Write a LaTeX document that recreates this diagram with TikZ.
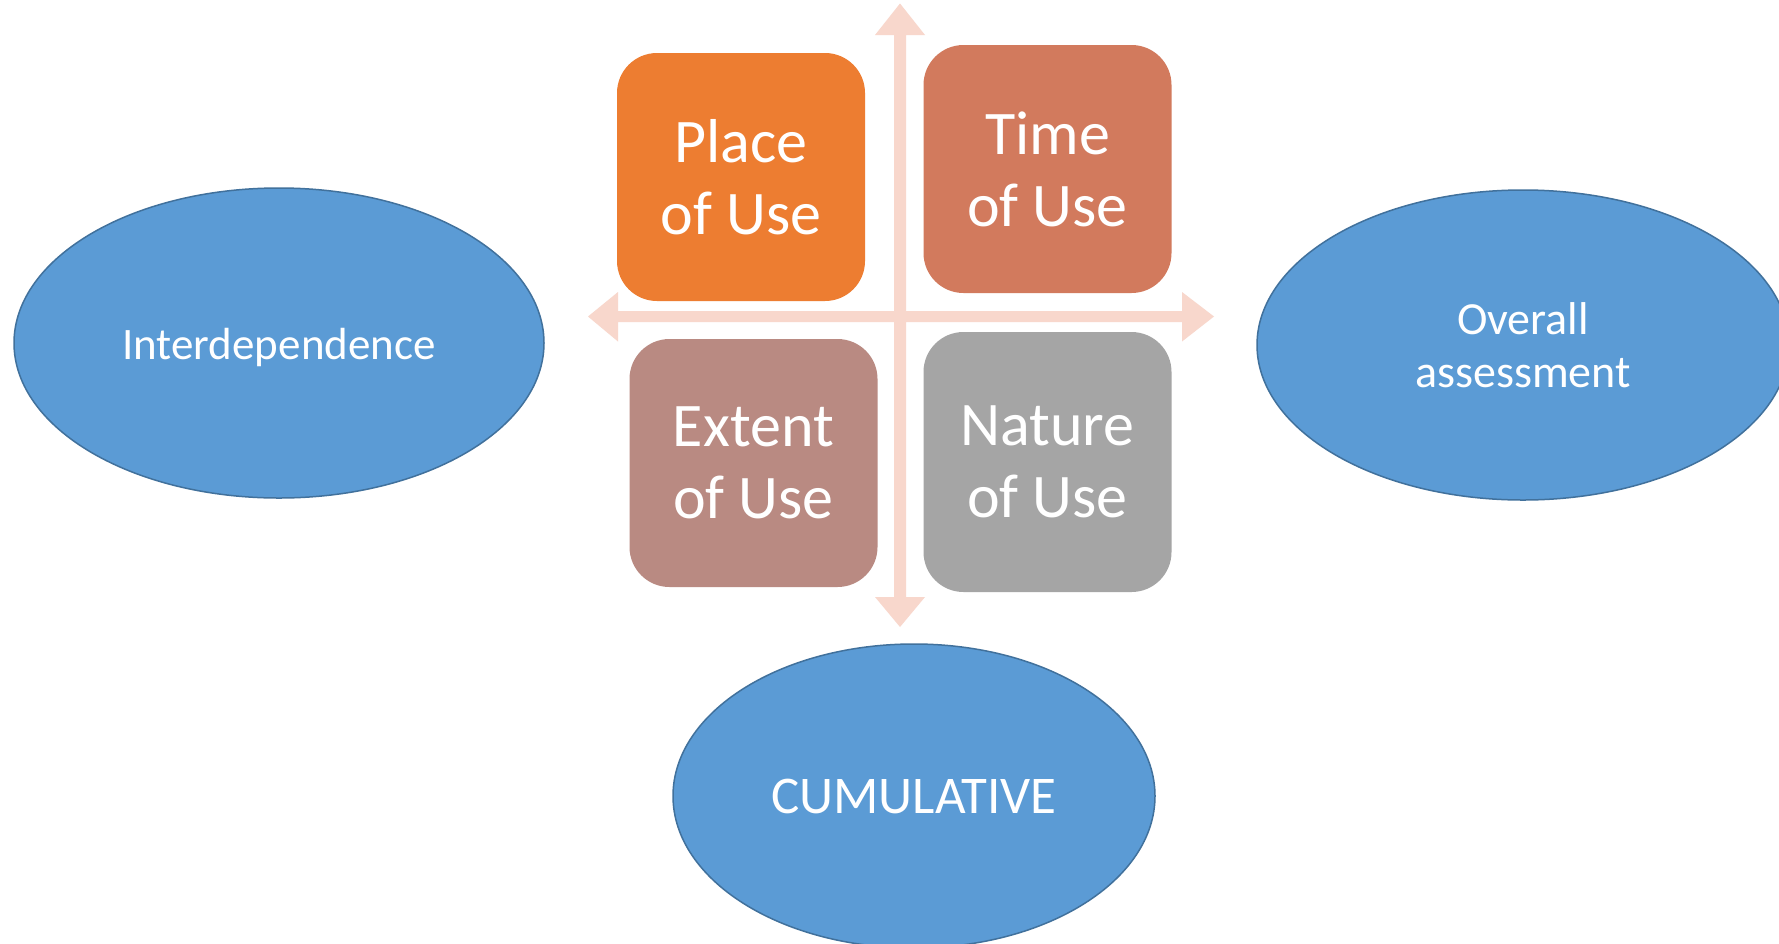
\documentclass[tikz,border=0pt]{standalone}
\usepackage{fontspec}
\setmainfont{Carlito}
\usetikzlibrary{shapes.geometric}
\definecolor{arrowc}{HTML}{F8D7CC}
\definecolor{placec}{HTML}{ED7D31}
\definecolor{timec}{HTML}{D27A5D}
\definecolor{extentc}{HTML}{B98A82}
\definecolor{naturec}{HTML}{A5A5A5}
\definecolor{ellfill}{HTML}{5B9BD5}
\definecolor{elldraw}{HTML}{41719C}
\tikzset{
  box/.style={rectangle, rounded corners=40pt, minimum width=248pt, minimum height=248pt, inner sep=0pt, text=white, align=center, font=\fontsize{62}{72}\selectfont},
  oval/.style={ellipse, fill=ellfill, draw=elldraw, line width=1.5pt, inner sep=0pt, text=white, align=center},
  crossarrow/.style={fill=arrowc, draw=none}
}
\begin{document}
\begin{tikzpicture}[x=1pt,y=-1pt]
\useasboundingbox (0,0) rectangle (1779,943);
\clip (0,0) rectangle (1779,943);
\fill[white] (0,0) rectangle (1779,943);
% cross arrow
\coordinate (c) at (900,316.5);
\fill[crossarrow] (894,322) -- (894,597) -- (875,597) -- (900,627) -- (925,597) -- (906,597) -- (906,322)
  -- (1182,322) -- (1182,341.5) -- (1214,316.5) -- (1182,292) -- (1182,311)
  -- (906,311) -- (906,35) -- (925,35) -- (900,3.5) -- (875,35) -- (894,35) -- (894,311)
  -- (618,311) -- (618,292) -- (588,316.5) -- (618,341.5) -- (618,322) -- cycle;
% boxes
\node[box, fill=placec, minimum height=248pt] (place) at (741,177) {Place\\of Use};
\node[box, fill=timec, minimum height=248pt] (time) at (1047.5,169) {Time\\of Use};
\node[box, fill=extentc, minimum height=248pt] (extent) at (753.5,463) {Extent\\of Use};
\node[box, fill=naturec, minimum height=260pt] (nature) at (1047.5,462) {Nature\\of Use};
% ellipses
\node[oval, minimum width=530pt, minimum height=310pt] (inter) at (279,343) {};
\node[text=white, font=\fontsize{45}{54}\selectfont] (intertext) at (279,347) {Interdependence};
\node[oval, minimum width=532pt, minimum height=310pt, font=\fontsize{46}{53}\selectfont] (overall) at (1523,345) {Overall\\assessment};
\node[oval, minimum width=482pt, minimum height=304pt, font=\fontsize{53}{60}\selectfont] (cum) at (914,796) {CUMULATIVE};
\end{tikzpicture}
\end{document}
